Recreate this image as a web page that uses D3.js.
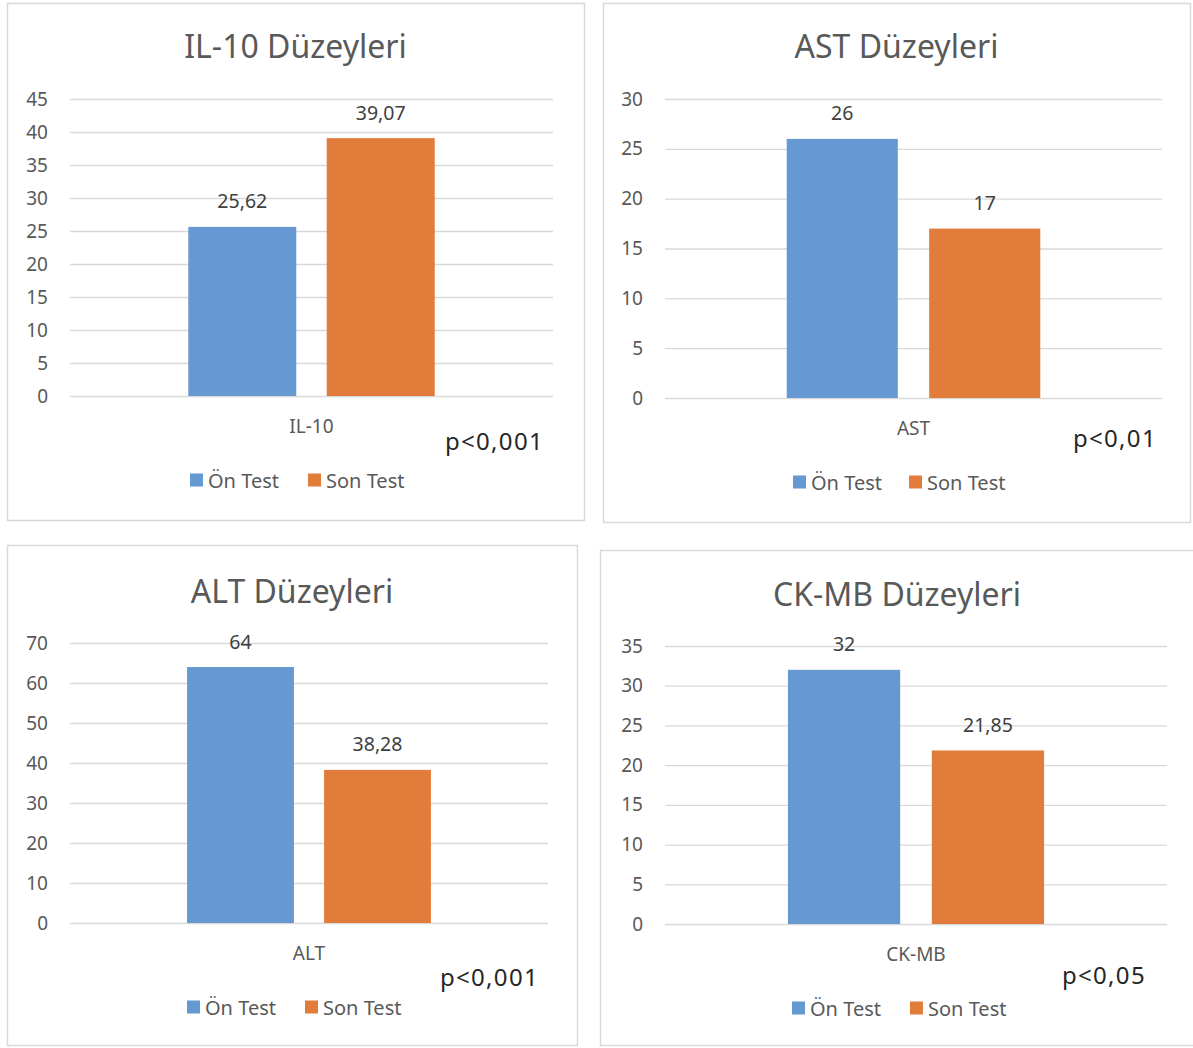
<!DOCTYPE html>
<html>
<head>
<meta charset="utf-8">
<script src="https://cdn.jsdelivr.net/npm/d3@7"></script>
<style>
  html, body { margin: 0; padding: 0; background: #ffffff; }
  svg { display: block; font-family: "Noto Sans", "Open Sans", sans-serif; }
</style>
</head>
<body>
<svg id="chart" width="1193" height="1048"></svg>
<script>
// ---- data ----
const titles = ["IL-10 Düzeyleri", "AST Düzeyleri", "ALT Düzeyleri", "CK-MB Düzeyleri"];
const categories = ["IL-10", "AST", "ALT", "CK-MB"];
const seriesNames = ["Ön Test", "Son Test"];
const onTest = [25.62, 26, 64, 32];
const sonTest = [39.07, 17, 38.28, 21.85];
const yMax = [45, 30, 70, 35];
const yStep = [5, 5, 10, 5];
const pValues = ["p<0,001", "p<0,01", "p<0,001", "p<0,05"];

// ---- layout ----
const frames = [
  { x: 7, y: 3, w: 577, h: 517 },
  { x: 603, y: 3, w: 587, h: 519 },
  { x: 7, y: 545, w: 570, h: 500 },
  { x: 600, y: 550, w: 594, h: 495 }
];
const plots = [
  { x0: 70, x1: 553, top: 99, bottom: 396 },
  { x0: 665, x1: 1162, top: 99, bottom: 398 },
  { x0: 70, x1: 548, top: 643, bottom: 923 },
  { x0: 665, x1: 1167, top: 646, bottom: 924 }
];
const titleY = [45, 45, 590, 593];
const pPos = [
  { x: 445, y: 440 }, { x: 1073, y: 437 }, { x: 440, y: 976 }, { x: 1062, y: 974 }
];
const legendY = [480, 482, 1007, 1008];
const legendX = [[190, 308], [793, 909], [187, 305], [792, 910]];

const colors = ["#6699d2", "#e27c3a"];
const textColor = "#595959";
const gridColor = "#d9d9d9";
const fmt = v => String(v).replace(".", ",");

const svg = d3.select("#chart");

titles.forEach((title, i) => {
  const f = frames[i], p = plots[i];
  const g = svg.append("g");

  // panel frame
  g.append("rect")
    .attr("x", f.x + 0.5).attr("y", f.y + 0.5)
    .attr("width", f.w).attr("height", f.h)
    .attr("fill", "#ffffff").attr("stroke", gridColor).attr("stroke-width", 1.5);

  // title
  g.append("text")
    .attr("x", f.x + f.w / 2).attr("y", titleY[i])
    .attr("text-anchor", "middle").attr("dominant-baseline", "central")
    .attr("font-size", 32).attr("fill", textColor)
    .text(title);

  // scales
  const y = d3.scaleLinear().domain([0, yMax[i]]).range([p.bottom, p.top]);
  const x = d3.scaleBand().domain([categories[i]]).range([p.x0, p.x1])
    .paddingInner(0).paddingOuter(0.48);
  const xs = d3.scaleBand().domain(seriesNames).range([0, x.bandwidth()])
    .paddingInner(0.22).paddingOuter(0);

  // value axis with gridlines
  const ticks = d3.range(0, yMax[i] + yStep[i] / 2, yStep[i]);
  const axis = g.append("g")
    .attr("transform", `translate(${p.x0},0)`)
    .call(d3.axisLeft(y).tickValues(ticks).tickSize(-(p.x1 - p.x0)).tickPadding(22));
  axis.select(".domain").remove();
  axis.selectAll(".tick line").attr("stroke", gridColor).attr("stroke-width", 1.3);
  axis.selectAll(".tick text")
    .attr("fill", textColor).attr("font-size", 19)
    .attr("font-family", "\"Noto Sans\", sans-serif");

  // bars
  const vals = [onTest[i], sonTest[i]];
  const bx = x(categories[i]);
  g.selectAll("rect.bar").data(vals).join("rect")
    .attr("class", "bar")
    .attr("x", (d, k) => bx + xs(seriesNames[k]))
    .attr("y", d => y(d))
    .attr("width", xs.bandwidth())
    .attr("height", d => y(0) - y(d))
    .attr("fill", (d, k) => colors[k]);

  // value labels
  g.selectAll("text.val").data(vals).join("text")
    .attr("class", "val")
    .attr("x", (d, k) => bx + xs(seriesNames[k]) + xs.bandwidth() / 2)
    .attr("y", d => y(d) - 26)
    .attr("text-anchor", "middle").attr("dominant-baseline", "central")
    .attr("font-size", 19.5).attr("fill", "#404040")
    .text(d => fmt(d));

  // category label
  g.append("text")
    .attr("x", bx + x.bandwidth() / 2).attr("y", y(0) + 30)
    .attr("text-anchor", "middle").attr("dominant-baseline", "central")
    .attr("font-size", 19).attr("fill", textColor)
    .text(categories[i]);

  // significance note
  g.append("text")
    .attr("x", pPos[i].x).attr("y", pPos[i].y)
    .attr("dominant-baseline", "central")
    .attr("font-size", 24).attr("letter-spacing", 1.3).attr("fill", "#262626")
    .text(pValues[i]);

  // legend
  seriesNames.forEach((name, k) => {
    const lx = legendX[i][k], ly = legendY[i];
    g.append("rect")
      .attr("x", lx).attr("y", ly - 6.5)
      .attr("width", 13).attr("height", 13)
      .attr("fill", colors[k]);
    g.append("text")
      .attr("x", lx + 18).attr("y", ly)
      .attr("dominant-baseline", "central")
      .attr("font-size", 20).attr("fill", textColor)
      .text(name);
  });
});
</script>
</body>
</html>
